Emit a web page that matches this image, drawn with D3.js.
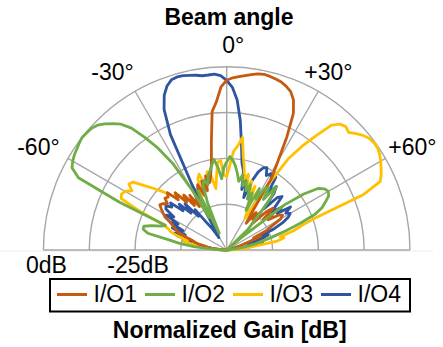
<!DOCTYPE html>
<html lang="en">
<head>
<meta charset="UTF-8">
<title>Beam angle</title>
<script src="https://d3js.org/d3.v7.min.js"></script>
<style>
  body { margin: 0; background: #fff; }
  text { font-family: "Liberation Sans", Arial, sans-serif; fill: #000; }
  .grid { fill: none; stroke: #a6a6a6; stroke-width: 1.4; }
  .trace { fill: none; stroke-width: 2.8; stroke-linejoin: round; stroke-linecap: round; }
</style>
</head>
<body>
<div id="chart"></div>
<script>
// beam angle in degrees (0 = broadside), one reading every 2 degrees
const angles = [
  -90, -88, -86, -84, -82, -80, -78, -76, -74, -72,
  -70, -68, -66, -64, -62, -60, -58, -56, -54, -52,
  -50, -48, -46, -44, -42, -40, -38, -36, -34, -32,
  -30, -28, -26, -24, -22, -20, -18, -16, -14, -12,
  -10, -8, -6, -4, -2, 0, 2, 4, 6, 8,
  10, 12, 14, 16, 18, 20, 22, 24, 26, 28,
  30, 32, 34, 36, 38, 40, 42, 44, 46, 48,
  50, 52, 54, 56, 58, 60, 62, 64, 66, 68,
  70, 72, 74, 76, 78, 80, 82, 84, 86, 88, 90
];

// normalized gain [dB]
const io1 = [
  -50, -50, -48, -46, -45, -44, -42, -41, -40, -38,
  -36, -35, -34, -33, -31, -30, -29, -28, -28.5, -29.5,
  -28, -28.5, -27.5, -31, -29, -33, -31, -35, -32, -36,
  -33, -37, -32, -30.5, -34, -30, -33, -29, -31, -29,
  -26, -20, -12, -9.5, -5.5, -3.7, -3.0, -2.6, -2.2, -1.7,
  -1.2, -1.0, -1.2, -1.5, -1.8, -2.5, -3.4, -5.2, -8.5, -15,
  -22, -27, -38, -41, -37, -39, -36, -40, -35, -33,
  -37, -34, -36, -33, -32, -33, -36, -38, -42, -40,
  -44, -46, -48, -50, -50, -50, -50, -50, -50, -50, -50
];

const io2 = [
  -50, -48, -45, -41, -37, -34, -28, -26.5, -26.5, -28.5,
  -31, -32, -18, -5, -2.2, -1.5, -1.0, -0.7, -0.3, 0,
  -0.2, -0.4, -1.0, -2.2, -3.6, -5.2, -7.8, -12, -16.5, -22,
  -31, -40, -32, -45, -36, -31, -30, -31.5, -29, -28,
  -26.5, -25, -27.5, -30.5, -27.5, -26, -24.5, -25.5, -27, -29,
  -31, -29, -32, -30.5, -33, -31, -35, -33, -38, -31,
  -34, -30, -29.5, -33, -28, -31, -36, -40, -42, -50,
  -45, -30, -24, -20, -18.5, -18, -18.5, -20, -21.5, -24,
  -28.5, -33, -37, -40, -42, -45, -47, -50, -50, -50, -50
];

const io3 = [
  -50, -50, -47, -44, -42, -40, -38, -39, -36, -34,
  -33, -31, -24, -18, -17.5, -18, -19.5, -17.8, -18.5, -21.5,
  -23.8, -26, -28, -30, -29, -32, -31, -34, -33, -36,
  -35, -38, -34, -33, -29, -28, -32, -30, -28, -29,
  -33, -30, -26, -25.5, -29.5, -30, -27, -23, -21.5, -19,
  -24, -27, -30, -28.5, -32, -30, -34, -31, -36, -38,
  -40, -30, -20, -15, -10.5, -5.5, -3.8, -3.2, -3.8, -2.6,
  -1.4, -0.6, -0.3, -0.3, -0.8, -1.5, -2.3, -3.1, -4.2, -10,
  -24, -28.5, -31, -35, -34, -36, -42, -44, -47, -50, -50
];

const io4 = [
  -50, -50, -48, -46, -44, -41, -38, -40, -36, -35,
  -38, -34, -37, -33, -35, -31, -33, -30, -29.5, -31,
  -30, -34, -32, -36, -33, -38, -36, -41, -43, -46,
  -44, -30, -15, -8, -4.5, -2.4, -1.2, -0.9, -1.0, -1.3,
  -1.6, -2.0, -2.0, -1.9, -2.4, -3.7, -5.6, -9, -14.5, -21,
  -26, -28, -33, -29, -35, -30, -27, -25.5, -25, -27,
  -26, -27, -26, -31, -28, -30, -35, -30, -29, -32,
  -34, -31, -33, -29, -31, -30, -31, -33, -36, -42,
  -38, -40, -44, -41, -40, -44, -46, -48, -50, -50, -50
];

const seriesNames = ["I/O1", "I/O2", "I/O3", "I/O4"];
const seriesValues = [io1, io2, io3, io4];
const seriesColors = ["#C55A11", "#70AD47", "#FFC000", "#2F55A0"];
const drawOrder = [3, 2, 0, 1];

const spokeAngles = [-60, -30, 0, 30, 60];
const angleLabels = ["-60°", "-30°", "0°", "+30°", "+60°"];
const ringLevels = [-37.5, -25, -12.5, 0];
const ringLabelLevels = [0, -25];
const ringLabels = ["0dB", "-25dB"];

const width = 443, height = 347;
const cx = 226.7, cy = 250, R = 183.3;

const svg = d3.select("#chart").append("svg")
  .attr("width", width)
  .attr("height", height);

// faint line under the plot
svg.append("line")
  .attr("x1", 0).attr("x2", 433)
  .attr("y1", cy + 1).attr("y2", cy + 1)
  .attr("stroke", "#ececec").attr("stroke-width", 1);

const g = svg.append("g").attr("transform", `translate(${cx},${cy})`);

const r = d3.scaleLinear().domain([-50, 0]).range([0, R]).clamp(true);
const rad = d => d * Math.PI / 180;

// rings
g.selectAll(".ring")
  .data(ringLevels)
  .enter().append("path")
  .attr("class", "grid")
  .attr("d", d => `M${-r(d)},0 A${r(d)},${r(d)} 0 0 1 ${r(d)},0`);

// spokes
g.selectAll(".spoke")
  .data(spokeAngles)
  .enter().append("line")
  .attr("class", "grid")
  .attr("x1", 0).attr("y1", 0)
  .attr("x2", d => r(0) * Math.sin(rad(d)))
  .attr("y2", d => -r(0) * Math.cos(rad(d)));

// baseline (+/-90)
g.append("line")
  .attr("class", "grid")
  .attr("x1", -r(0)).attr("x2", r(0))
  .attr("y1", 0).attr("y2", 0);

// traces
const line = d3.lineRadial()
  .angle(d => rad(d[0]))
  .radius(d => r(d[1]));

drawOrder.forEach(i => {
  g.append("path")
    .attr("class", "trace")
    .attr("stroke", seriesColors[i])
    .attr("d", line(angles.map((a, k) => [a, seriesValues[i][k]])));
});

// angle labels
const labelR = r(0) + 26;
const labelNudge = [[-7, 9.7], [-9.5, 11.3], [6.6, 12.3], [-3, 11.3], [4.5, 9.7]];
g.selectAll(".alabel")
  .data(spokeAngles)
  .enter().append("text")
  .attr("text-anchor", "middle")
  .attr("font-size", 23)
  .attr("x", (d, i) => labelR * Math.sin(rad(d)) + labelNudge[i][0])
  .attr("y", (d, i) => -labelR * Math.cos(rad(d)) + labelNudge[i][1])
  .text((d, i) => angleLabels[i]);

// ring labels
g.selectAll(".rlabel")
  .data(ringLabelLevels)
  .enter().append("text")
  .attr("text-anchor", "middle")
  .attr("font-size", 23)
  .attr("x", d => -r(d) + 3)
  .attr("y", 23)
  .text((d, i) => ringLabels[i]);

// titles
svg.append("text")
  .attr("x", 229).attr("y", 25)
  .attr("text-anchor", "middle")
  .attr("font-size", 23).attr("font-weight", "bold")
  .text("Beam angle");

svg.append("text")
  .attr("x", 229.7).attr("y", 338)
  .attr("text-anchor", "middle")
  .attr("font-size", 23).attr("font-weight", "bold")
  .text("Normalized Gain [dB]");

// legend
const legend = svg.append("g");
legend.append("rect")
  .attr("x", 50).attr("y", 279)
  .attr("width", 360).attr("height", 32.5)
  .attr("fill", "none").attr("stroke", "#000").attr("stroke-width", 2);

const item = legend.selectAll(".item")
  .data(seriesNames)
  .enter().append("g")
  .attr("transform", (d, i) => `translate(${57 + i * 88},294.5)`);

item.append("line")
  .attr("x1", 0).attr("x2", 30)
  .attr("y1", 0).attr("y2", 0)
  .attr("stroke", (d, i) => seriesColors[i])
  .attr("stroke-width", 3);

item.append("text")
  .attr("x", 36.5).attr("y", 7.5)
  .attr("font-size", 23)
  .text(d => d);
</script>
</body>
</html>
